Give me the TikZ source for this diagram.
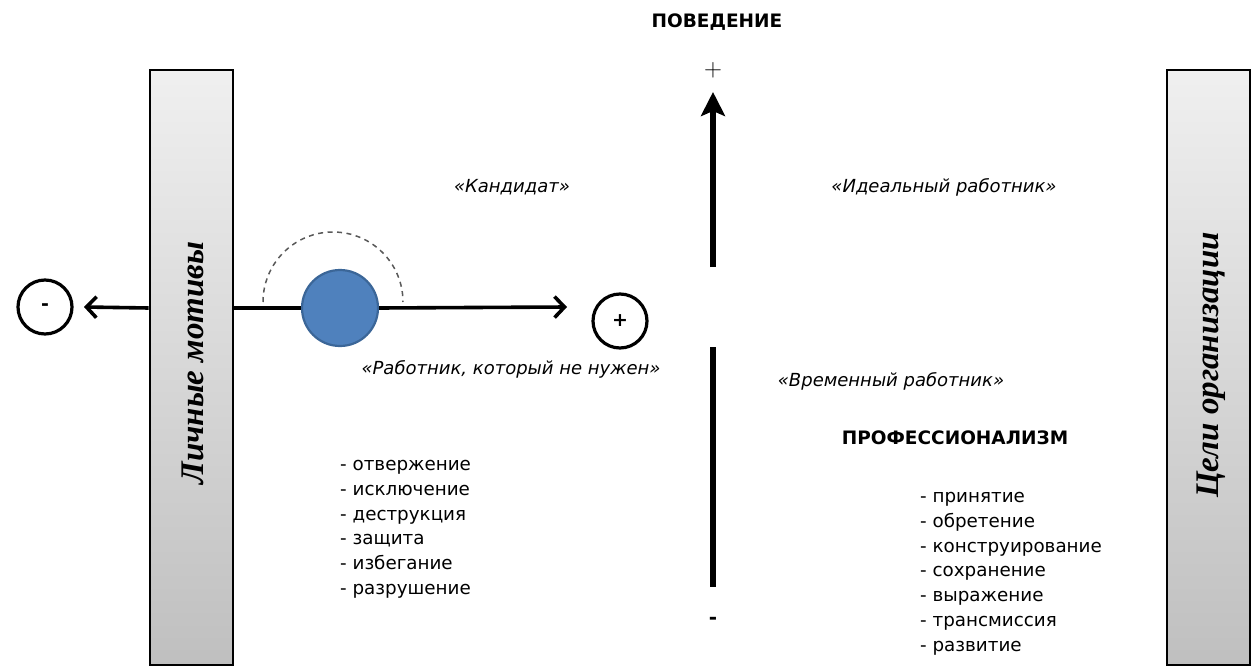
\documentclass[tikz,border=0pt]{standalone}
\usepackage{fontspec}
\setmainfont{DejaVu Sans}
\newfontfamily\boxfont{Liberation Serif}
\usetikzlibrary{arrows.meta}
\definecolor{ballblue}{HTML}{4F81BD}
\definecolor{balledge}{HTML}{3B6698}
\begin{document}
\begin{tikzpicture}[x=1pt,y=-1pt,
  sidebox/.style={draw=black,line width=2.6pt,top color=gray!12,bottom color=gray!50,minimum width=83pt,minimum height=595pt,inner sep=0pt},
  boxlabel/.style={rotate=90,font=\boxfont\bfseries\itshape\fontsize{33}{36}\selectfont},
  signcirc/.style={circle,draw=black,line width=3.2pt,minimum size=54pt,inner sep=0pt,font=\bfseries\fontsize{19}{20}\selectfont},
  ball/.style={circle,fill=ballblue,draw=balledge,line width=2.2pt,minimum size=76pt,inner sep=0pt},
  quote/.style={font=\itshape\fontsize{18}{21}\selectfont},
  heading/.style={font=\bfseries\fontsize{18.5}{21}\selectfont},
  listtext/.style={font=\fontsize{18.3}{24.8}\selectfont,align=left,anchor=north west,inner sep=0pt},
  axis/.style={line width=3.6pt,-{Straight Barb[length=10pt,width=21pt,line width=3.6pt]}},
  vaxis/.style={line width=6pt},
]
\useasboundingbox (0,0) rectangle (1253,669);
% side boxes
\node[sidebox] (lm) at (191.5,367.5) {};
\node[sidebox] (co) at (1208.5,367.5) {};
\node[boxlabel] (lmt) at (193,363) {Личные мотивы};
\node[boxlabel] (cot) at (1211,365) {Цели организации};
% circles
\node[signcirc] (minus) at (45,307) {-};
\node[signcirc] (plus) at (620,321) {+};
\node[ball] (ball) at (340,308) {};
% dashed arc
\draw[line width=1.5pt,gray!70!black,dash pattern=on 5pt off 4.5pt] (263,302) arc[start angle=180,end angle=360,radius=70];
% horizontal axis
\coordinate (ltip) at (84,307);
\coordinate (rtip) at (567,307);
\draw[axis] (lm.west |- ball) -- (ltip);
\draw[line width=3.6pt] (lm.east |- ball) -- (ball.west);
\draw[axis] (ball.east) -- (rtip);
% vertical axis
\coordinate (vtop) at (713,92);
\coordinate (vbot) at (713,267);
\coordinate (ltop) at (713,347);
\coordinate (lbot) at (713,587);
\draw[vaxis,-{Stealth[length=24pt,width=24pt,inset=5pt]}] (vbot) -- (vtop);
\draw[vaxis] (ltop) -- (lbot);
\node (vplus) at (713,70) {\fontsize{30}{30}\selectfont$+$};
\node[font=\bfseries\fontsize{20}{20}\selectfont] (vminus) at (713,621) {-};
% headings
\node[heading] (beh) at (717,22) {ПОВЕДЕНИЕ};
\node[heading] (prof) at (955,438) {ПРОФЕССИОНАЛИЗМ};
% quotes
\node[quote] (cand) at (512,187) {«Кандидат»};
\node[quote] (ideal) at (944,187) {«Идеальный работник»};
\node[quote] (notneed) at (511,369) {«Работник, который не нужен»};
\node[quote] (temp) at (891,381) {«Временный работник»};
% lists
\node[listtext] (llist) at (340,460) {- отвержение\\- исключение\\- деструкция\\- защита\\- избегание\\- разрушение};
\node[listtext] (rlist) at (920,492) {- принятие\\- обретение\\- конструирование\\- сохранение\\- выражение\\- трансмиссия\\- развитие};
\end{tikzpicture}
\end{document}
